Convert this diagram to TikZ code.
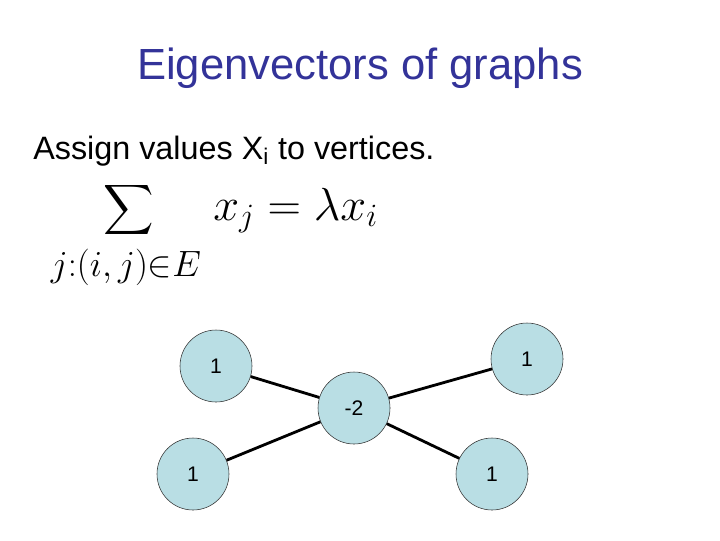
\RequirePackage{fix-cm}
\documentclass[tikz,border=0pt]{standalone}
\usepackage{amsmath}
\usepackage{fontspec}
\setmainfont{Liberation Sans}
\usetikzlibrary{positioning}
\definecolor{titleblue}{RGB}{51,51,153}
\definecolor{vertfill}{RGB}{185,222,228}

\begin{document}
\begin{tikzpicture}[
    x=0.025cm, y=-0.025cm,
    vert/.style={circle, draw=black!80, fill=vertfill, minimum size=72*0.025cm, inner sep=0pt, font=\fontsize{15}{18}\selectfont},
    edge/.style={line width=2pt, black},
    heading/.style={font=\fontsize{31}{36}\selectfont, text=titleblue},
    body/.style={font=\fontsize{23}{27}\selectfont},
    formula/.style={inner sep=0pt, font=\fontsize{33}{38}\selectfont},
]
\useasboundingbox (0,0) rectangle (720,540);

% Title
\node[heading] (title) at (360,68) {Eigenvectors of graphs};

% ====== Text ======
\node[body, anchor=base west, inner sep=0pt] (assign) at (33,159) {Assign values X\textsubscript{i} to vertices.};

% ====== Formula ======
\node[formula] (sumsign) at (129,222) {$\displaystyle\smash{\sum}$};
\node[inner sep=0pt, font=\fontsize{26}{30}\selectfont, anchor=base] (sumrange) at (126,276) {$j{:}(i,j){\in}E$};
\node[formula, anchor=base west] (eigeq) at (213,220) {$x_j = \lambda x_i$};

% ====== Vertices ======
\node[vert] (tl) at (216,366) {1};
\node[vert] (mid) at (354,408) {-2};
\node[vert] (tr) at (527,359) {1};
\node[vert] (bl) at (193,474) {1};
\node[vert] (br) at (492,474) {1};

% ====== Edges ======
\draw[edge] (tl) -- (mid);
\draw[edge] (mid) -- (tr);
\draw[edge] (mid) -- (bl);
\draw[edge] (mid) -- (br);

\end{tikzpicture}
\end{document}
